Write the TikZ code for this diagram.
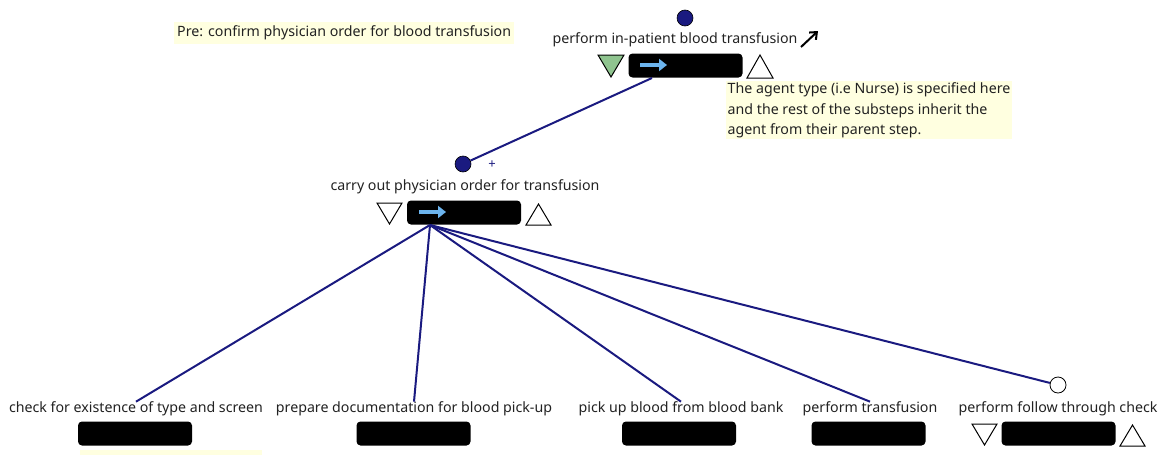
\documentclass[tikz,border=0pt]{standalone}
\usepackage{fontspec}
\setmainfont{Noto Sans}
\usetikzlibrary{arrows.meta}
\definecolor{navy}{HTML}{1A1A80}
\definecolor{notefill}{HTML}{FFFFE0}
\definecolor{sky}{HTML}{6CB4EE}
\definecolor{grn}{HTML}{8FC48F}
\definecolor{txt}{HTML}{222222}
\begin{document}
\begin{tikzpicture}[x=1pt,y=-1pt,
  stepbar/.style={fill=black,rounded corners=4pt,minimum width=114pt,minimum height=24pt,inner sep=0pt},
  lbl/.style={font=\fontsize{14.2}{17}\selectfont,inner sep=0pt,text=txt},
  notebox/.style={fill=notefill,font=\fontsize{14.2}{20.5}\selectfont,inner sep=1.5pt,text=txt,align=left},
  edge/.style={draw=navy,line width=2pt},
  dot/.style={circle,fill=navy,draw=black,line width=0.6pt,minimum size=16pt,inner sep=0pt},
  odot/.style={circle,fill=white,draw=black,line width=0.8pt,minimum size=16pt,inner sep=0pt},
  tri/.style={draw=black,line width=1pt,fill=white},
  skyarrow/.style={draw=sky,line width=3.5pt,-{Triangle[length=8pt,width=12pt]}}
]
\useasboundingbox (0,0) rectangle (1166,455);
\fill[white] (0,0) rectangle (1166,455);

% notes
\node[notebox,anchor=west,minimum height=22pt,inner xsep=3pt] (pre) at (174,33) {Pre: confirm physician order for blood transfusion};
\node[notebox,anchor=north west] (agent) at (726,81) {The agent type (i.e Nurse) is specified here\\and the rest of the substeps inherit the\\agent from their parent step.};
\fill[notefill] (80,450) rectangle (262,455);

% top step
\node[dot] (c1) at (685,18) {};
\node[lbl] (t1) at (675,40) {perform in-patient blood transfusion};
\draw[black,line width=2pt,-{Straight Barb[length=6pt,width=10pt]}] (801,47) -- (818,31);
\draw[tri,fill=grn] (598,55) -- ++(26,0) -- ++(-13,22) -- cycle;
\node[stepbar] (r1) at (685.5,65.5) {};
\draw[skyarrow] (640,65) -- (667,65);
\draw[tri] (747,78) -- ++(26,0) -- ++(-13,-23) -- cycle;
\coordinate (o1) at (652,78);

% second step
\node[dot] (c2) at (463,164) {};
\node[font=\fontsize{13}{14}\selectfont,text=navy,inner sep=0pt] (plus) at (492,165) {+};
\node[lbl] (t2) at (465,187) {carry out physician order for transfusion};
\draw[tri] (377,203) -- ++(25,0) -- ++(-12.5,21) -- cycle;
\node[stepbar] (r2) at (464,212.5) {};
\draw[skyarrow] (419,212) -- (446,212);
\draw[tri] (526,225) -- ++(25,0) -- ++(-12.5,-21) -- cycle;
\coordinate (o2) at (430,225);

\draw[edge] (o1) -- (c2);

% children
\node[lbl] (l1) at (136,409) {check for existence of type and screen};
\node[stepbar] (b1) at (135,433.5) {};
\node[lbl] (l2) at (414,409) {prepare documentation for blood pick-up};
\node[stepbar] (b2) at (413.5,433.5) {};
\node[lbl] (l3) at (681,409) {pick up blood from blood bank};
\node[stepbar] (b3) at (679,433.5) {};
\node[lbl] (l4) at (870,409) {perform transfusion};
\node[stepbar] (b4) at (868.5,433.5) {};
\node[odot] (c5) at (1058,385) {};
\node[lbl] (l5) at (1058,409) {perform follow through check};
\draw[tri] (972,424) -- ++(25,0) -- ++(-12.5,21) -- cycle;
\node[stepbar] (b5) at (1058.5,433.5) {};
\draw[tri] (1120,446) -- ++(25,0) -- ++(-12.5,-21) -- cycle;

\draw[edge] (o2) -- (l1.north);
\draw[edge] (o2) -- (l2.north);
\draw[edge] (o2) -- (l3.north);
\draw[edge] (o2) -- (l4.north);
\draw[edge] (o2) -- (c5);
\end{tikzpicture}
\end{document}
